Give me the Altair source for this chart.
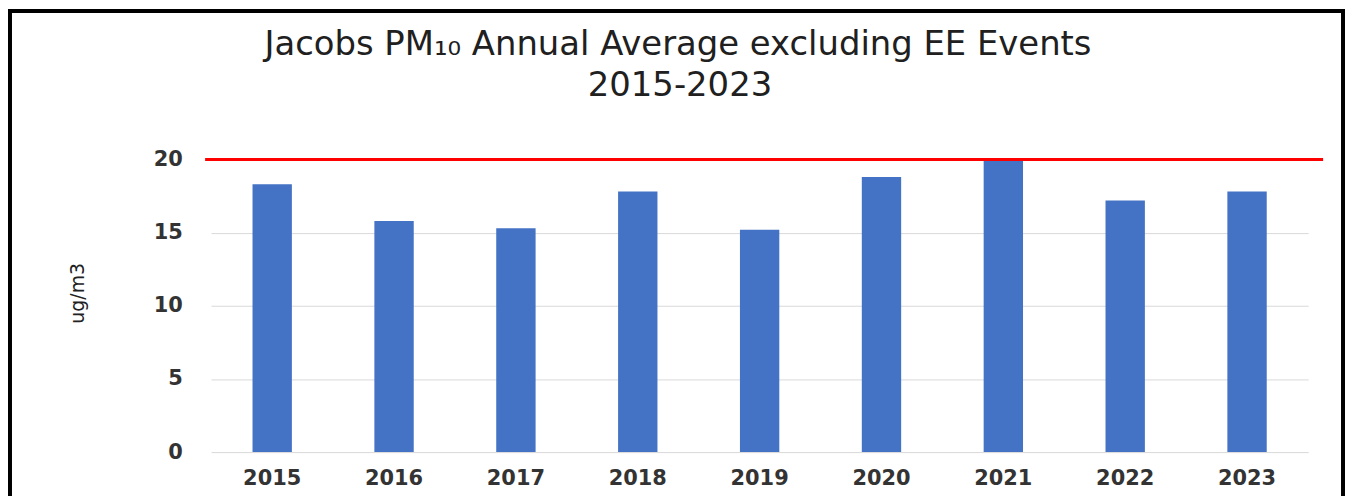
import altair as alt
import pandas as pd

# ---- data ----
years = ["2015", "2016", "2017", "2018", "2019", "2020", "2021", "2022", "2023"]
pm10 = [18.3, 15.8, 15.3, 17.8, 15.2, 18.8, 19.9, 17.2, 17.8]
standard = [20]
y_ticks = [0, 5, 10, 15, 20]
title_line1 = "Jacobs PM\u2081\u2080 Annual Average excluding EE Events"
title_line2 = "2015-2023"
y_title = "ug/m3"

W, H = 1102, 294
FONT = "DejaVu Sans"

bars_df = pd.DataFrame({"year": years, "value": pm10})
limit_df = pd.DataFrame({"limit": standard})
one_df = pd.DataFrame({"k": [0]})

base = alt.Chart(bars_df)

bars = base.mark_bar(color="#4472C4").encode(
    x=alt.X(
        "year:N",
        sort=years,
        scale=alt.Scale(paddingInner=0.677, paddingOuter=0.34),
        axis=alt.Axis(
            title=None,
            labelAngle=0,
            domain=False,
            ticks=False,
            tickSize=0,
            labelPadding=16,
            labelFont=FONT,
            labelFontSize=21,
            labelFontWeight="bold",
            labelColor="#333333",
            grid=False,
        ),
    ),
    y=alt.Y(
        "value:Q",
        scale=alt.Scale(domain=[0, 20], nice=False),
        axis=alt.Axis(
            values=y_ticks,
            title=y_title,
            titleFont=FONT,
            titleFontSize=19,
            titleFontWeight="normal",
            titleColor="#222222",
            titleX=-134,
            titleY=134,
            titleAngle=-90,
            titleBaseline="middle",
            titleAlign="center",
            domain=False,
            ticks=False,
            tickSize=0,
            labelPadding=29,
            labelFont=FONT,
            labelFontSize=21,
            labelFontWeight="bold",
            labelColor="#333333",
            grid=True,
            gridColor="#D9D9D9",
            gridWidth=1,
        ),
    ),
)

limit_rule = alt.Chart(limit_df).mark_rule(color="#FF0000", strokeWidth=3).encode(
    y=alt.Y("limit:Q"),
    x=alt.value(-6),
    x2=alt.value(W + 15),
)

frame = alt.Chart(one_df).mark_rect(
    filled=False, stroke="#000000", strokeWidth=4
).encode(
    x=alt.value(-202),
    x2=alt.value(W + 35),
    y=alt.value(-149),
    y2=alt.value(H + 60),
)

t1 = alt.Chart(one_df).mark_text(
    font=FONT, fontSize=34, color="#202020", align="center", baseline="alphabetic"
).encode(x=alt.value(469), y=alt.value(-105), text=alt.value(title_line1))

t2 = alt.Chart(one_df).mark_text(
    font=FONT, fontSize=34, color="#202020", align="center", baseline="alphabetic"
).encode(x=alt.value(471), y=alt.value(-64), text=alt.value(title_line2))

chart = (
    alt.layer(bars, limit_rule, frame, t1, t2)
    .properties(
        width=W,
        height=H,
        autosize=alt.AutoSizeParams(type="none"),
        padding={"left": 204, "top": 151, "right": 37, "bottom": 43},
        background="white",
    )
    .configure_view(stroke=None)
)

chart.save("out.html", embed_options={"renderer": "svg", "actions": False})
